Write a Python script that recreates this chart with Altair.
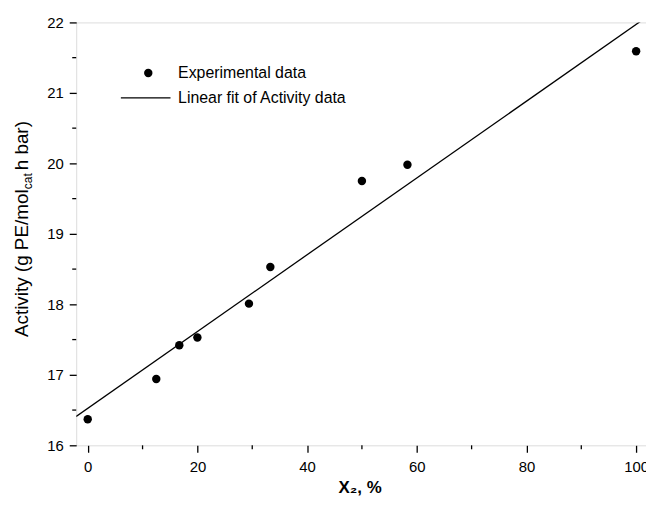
import altair as alt
import pandas as pd

# data
x_pct = [0, 12.5, 16.7, 20, 29.4, 33.3, 50, 58.3, 100]
activity = [16.37, 16.94, 17.42, 17.53, 18.01, 18.53, 19.75, 19.98, 21.59]
fit_x = [-2.1, 101.8]
fit_y = [16.41, 22.07]
x_major = [0, 20, 40, 60, 80, 100]
x_minor = [10, 30, 50, 70, 90]
y_major = [16, 17, 18, 19, 20, 21, 22]
y_minor = [16.5, 17.5, 18.5, 19.5, 20.5, 21.5]

W, H = 574, 426
FONT = "Liberation Sans"

pts = pd.DataFrame({"x": x_pct, "y": activity})
fit = pd.DataFrame({"x": fit_x, "y": fit_y})

xs = alt.Scale(domain=[-2.1, 101.8], nice=False, zero=False)
ys = alt.Scale(domain=[16, 22], nice=False, zero=False)

xaxis = alt.Axis(values=x_major, title="", format="d", tickSize=7, tickColor="black", tickWidth=1.3,
                 labelFontSize=15, labelFont=FONT, labelColor="black", labelPadding=7,
                 domain=False, grid=False)
yaxis = alt.Axis(values=y_major, title="", format="d", tickSize=7, tickColor="black", tickWidth=1.3,
                 labelFontSize=15, labelFont=FONT, labelColor="black", labelPadding=6,
                 domain=False, grid=False)

points = alt.Chart(pts).mark_circle(size=72, color="black", opacity=1).encode(
    x=alt.X("x:Q", scale=xs, axis=xaxis),
    y=alt.Y("y:Q", scale=ys, axis=yaxis),
)

line = alt.Chart(fit).mark_line(color="black", strokeWidth=1.3, clip=True).encode(
    x=alt.X("x:Q", scale=xs),
    y=alt.Y("y:Q", scale=ys),
)

xminor = alt.Chart(pd.DataFrame({"x": x_minor})).mark_rule(color="black", strokeWidth=1.3, clip=False).encode(
    x=alt.X("x:Q", scale=xs), y=alt.value(H), y2=alt.value(H + 4)
)
yminor = alt.Chart(pd.DataFrame({"y": y_minor})).mark_rule(color="black", strokeWidth=1.3, clip=False).encode(
    y=alt.Y("y:Q", scale=ys), x=alt.value(0), x2=alt.value(-4)
)

# legend
leg_dot = alt.Chart(pd.DataFrame({"a": [0]})).mark_circle(size=72, color="black", opacity=1).encode(
    x=alt.value(72.6), y=alt.value(51)
)
leg_line = alt.Chart(pd.DataFrame({"a": [0]})).mark_rule(color="black", strokeWidth=1.3).encode(
    x=alt.value(45), x2=alt.value(95), y=alt.value(76)
)
leg_t1 = alt.Chart(pd.DataFrame({"t": ["Experimental data"]})).mark_text(
    align="left", baseline="middle", fontSize=16, font=FONT, color="black"
).encode(x=alt.value(102.6), y=alt.value(51), text="t:N")
leg_t2 = alt.Chart(pd.DataFrame({"t": ["Linear fit of Activity data"]})).mark_text(
    align="left", baseline="middle", fontSize=16, font=FONT, color="black"
).encode(x=alt.value(102.6), y=alt.value(76), text="t:N")

# y title with subscript
ty_main = alt.Chart(pd.DataFrame({"t": ["Activity (g PE/mol"]})).mark_text(
    align="left", baseline="middle", angle=270, fontSize=19, font=FONT, color="black"
).encode(x=alt.value(-54.7), y=alt.value(317), text="t:N")
ty_sub = alt.Chart(pd.DataFrame({"t": ["cat"]})).mark_text(
    align="left", baseline="middle", angle=270, fontSize=12, font=FONT, color="black"
).encode(x=alt.value(-49), y=alt.value(168), text="t:N")
ty_end = alt.Chart(pd.DataFrame({"t": ["h bar)"]})).mark_text(
    align="left", baseline="middle", angle=270, fontSize=19, font=FONT, color="black"
).encode(x=alt.value(-54.7), y=alt.value(149), text="t:N")

# x title
tx = alt.Chart(pd.DataFrame({"t": ["X₂, %"]})).mark_text(
    align="center", baseline="middle", fontSize=17, fontWeight="bold", font=FONT, color="black"
).encode(x=alt.value(286), y=alt.value(469), text="t:N")

chart = alt.layer(
    line, points, xminor, yminor, leg_dot, leg_line, leg_t1, leg_t2, ty_main, ty_sub, ty_end, tx
).properties(
    width=W, height=H,
    autosize=alt.AutoSizeParams(type="none"),
    padding={"left": 68.7, "top": 12.7, "right": 0, "bottom": 60},
).configure_view(stroke="black", strokeWidth=1.5).configure(background="white")

chart.save("out.html", embed_options={"renderer": "svg", "actions": False})
